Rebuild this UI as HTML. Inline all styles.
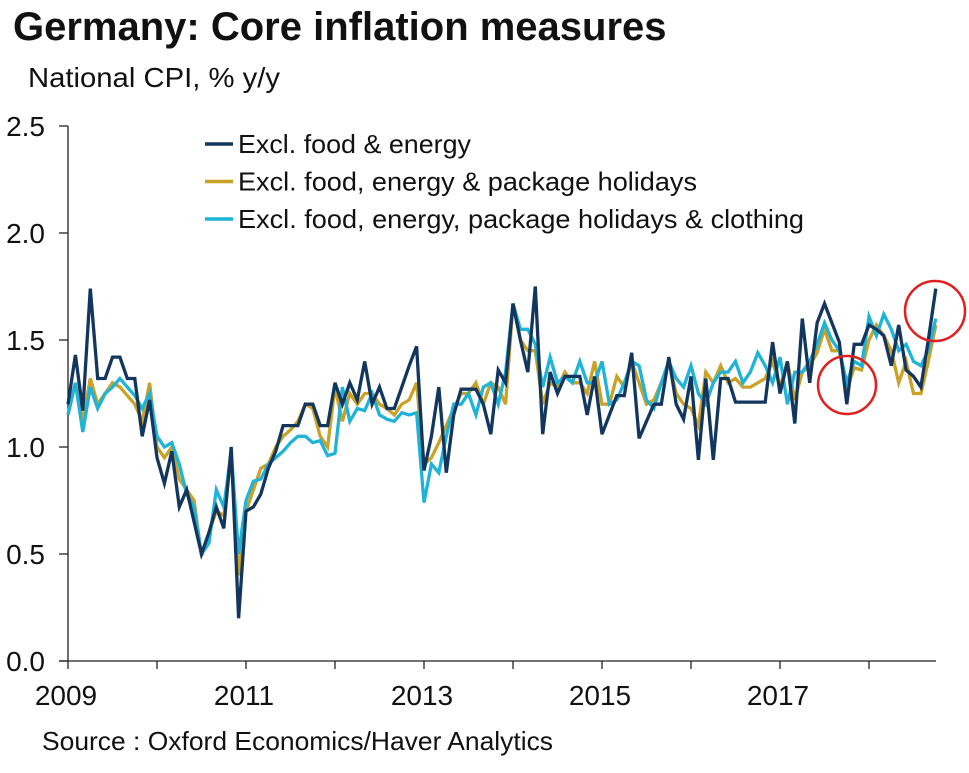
<!DOCTYPE html>
<html><head><meta charset="utf-8"><style>
body{margin:0;background:#fff;}
svg{display:block;font-family:"Liberation Sans",Arial,sans-serif;}
</style></head><body>
<svg id="chart" width="969" height="773" viewBox="0 0 969 773">
<text x="13" y="40" font-size="40" font-weight="bold" fill="#111">Germany: Core inflation measures</text>
<text x="28" y="87" font-size="28" fill="#111" textLength="252" lengthAdjust="spacingAndGlyphs">National CPI, % y/y</text>
<text x="42" y="750" font-size="26" fill="#111" textLength="511" lengthAdjust="spacingAndGlyphs">Source : Oxford Economics/Haver Analytics</text>
<g id="axes"></g>
<g id="series"></g>
<g id="legend"></g>
<circle cx="847" cy="385" r="29" fill="none" stroke="#e02020" stroke-width="2.5"/>
<circle cx="935" cy="311" r="30" fill="none" stroke="#e02020" stroke-width="2.5"/>
</svg>
<script>
const yTicks=[0.0,0.5,1.0,1.5,2.0,2.5];
const yTickLabels=["0.0","0.5","1.0","1.5","2.0","2.5"];
const xYears=[2009,2010,2011,2012,2013,2014,2015,2016,2017,2018];
const xLabelYears=[2009,2011,2013,2015,2017];
const seriesNames=["Excl. food & energy","Excl. food, energy & package holidays","Excl. food, energy, package holidays & clothing"];
const exFoodEnergy=[1.20,1.43,1.17,1.74,1.32,1.32,1.42,1.42,1.32,1.32,
1.05,1.22,0.95,0.83,0.98,0.72,0.80,0.65,0.50,0.60,
0.72,0.62,1.00,0.20,0.70,0.72,0.78,0.90,0.98,1.10,
1.10,1.10,1.20,1.20,1.10,1.10,1.30,1.20,1.30,1.22,
1.40,1.20,1.28,1.18,1.18,1.28,1.38,1.47,0.89,1.05,
1.28,0.88,1.15,1.27,1.27,1.27,1.20,1.06,1.36,1.30,
1.67,1.50,1.35,1.75,1.06,1.35,1.25,1.33,1.33,1.33,
1.15,1.33,1.06,1.15,1.24,1.24,1.44,1.04,1.12,1.20,
1.20,1.42,1.20,1.13,1.33,0.94,1.32,0.94,1.32,1.32,
1.21,1.21,1.21,1.21,1.21,1.49,1.25,1.40,1.11,1.60,
1.30,1.58,1.67,1.58,1.49,1.20,1.48,1.48,1.57,1.55,
1.52,1.38,1.57,1.36,1.33,1.28,1.50,1.74];
const exPackage=[1.15,1.30,1.12,1.32,1.20,1.25,1.30,1.28,1.24,1.20,
1.12,1.30,1.00,0.95,1.00,0.85,0.80,0.75,0.49,0.60,
0.70,0.68,0.95,0.40,0.70,0.80,0.90,0.92,1.00,1.05,
1.08,1.12,1.20,1.18,1.05,1.00,1.28,1.12,1.25,1.20,
1.25,1.25,1.20,1.18,1.15,1.20,1.22,1.30,0.92,0.95,
1.02,1.10,1.18,1.25,1.25,1.30,1.20,1.30,1.28,1.20,
1.67,1.50,1.45,1.45,1.20,1.30,1.28,1.35,1.30,1.30,
1.25,1.40,1.20,1.20,1.33,1.28,1.40,1.30,1.20,1.22,
1.30,1.40,1.25,1.20,1.18,1.10,1.35,1.30,1.38,1.30,
1.32,1.28,1.28,1.30,1.32,1.40,1.28,1.40,1.22,1.35,
1.38,1.44,1.55,1.45,1.45,1.27,1.37,1.36,1.50,1.57,
1.52,1.45,1.30,1.40,1.25,1.25,1.40,1.57];
const exClothing=[1.15,1.30,1.07,1.28,1.18,1.25,1.28,1.32,1.28,1.24,
1.18,1.25,1.05,1.00,1.02,0.92,0.78,0.72,0.50,0.55,
0.80,0.72,0.98,0.50,0.75,0.84,0.85,0.92,0.95,0.98,
1.02,1.05,1.05,1.02,1.03,0.96,0.97,1.28,1.12,1.18,
1.17,1.25,1.15,1.13,1.12,1.16,1.15,1.16,0.74,0.92,
0.88,1.05,1.20,1.20,1.25,1.15,1.28,1.30,1.20,1.35,
1.67,1.55,1.55,1.48,1.28,1.42,1.30,1.33,1.30,1.40,
1.30,1.30,1.40,1.20,1.22,1.30,1.40,1.38,1.22,1.18,
1.30,1.40,1.32,1.28,1.38,1.25,1.20,1.30,1.35,1.35,
1.40,1.30,1.35,1.44,1.38,1.30,1.42,1.20,1.35,1.35,
1.40,1.48,1.58,1.50,1.45,1.30,1.40,1.38,1.61,1.52,
1.62,1.55,1.45,1.48,1.40,1.38,1.45,1.60];

const NS="http://www.w3.org/2000/svg";
const X0=68,PXY=89,Y0=661,PXV=214;
function xYear(y){return X0+(y-2009)*PXY;}
function xMonth(i){return X0+i*PXY/12;}
function yVal(v){return Y0-v*PXV;}
function mk(tag,attrs,parent){const e=document.createElementNS(NS,tag);for(const k in attrs)e.setAttribute(k,attrs[k]);parent.appendChild(e);return e;}
const axes=document.getElementById('axes');
let e=mk('line',{x1:X0,y1:yVal(2.5),x2:X0,y2:Y0,stroke:'#222','stroke-width':1.3},axes);


e=mk('line',{x1:59,y1:Y0,x2:936,y2:Y0,stroke:'#222','stroke-width':1.3},axes);


yTicks.forEach((v,k)=>{
  const t=mk('line',{x1:59,y1:yVal(v),x2:X0,y2:yVal(v),stroke:'#222','stroke-width':1.3},axes);
  
  
  const l=mk('text',{x:45,y:yVal(v)+10,'font-size':28,'text-anchor':'end',fill:'#111'},axes);
  l.textContent=yTickLabels[k];
  
  
});
xYears.forEach(y=>{
  const t=mk('line',{x1:xYear(y),y1:Y0,x2:xYear(y),y2:Y0+8,stroke:'#222','stroke-width':1.3},axes);
  
  
});
xLabelYears.forEach(y=>{
  const l=mk('text',{x:xYear(y)-2,y:705,'font-size':28,'text-anchor':'middle',fill:'#111'},axes);
  l.textContent=String(y);
  
  
});
const colors=["#13365f","#c9a227","#1fb3d8"];
const data=[exFoodEnergy,exPackage,exClothing];
const sg=document.getElementById('series');
[1,2,0].forEach(s=>{
  const pts=data[s].map((v,i)=>xMonth(i).toFixed(1)+','+yVal(v).toFixed(1)).join(' ');
  const p=mk('polyline',{points:pts,fill:'none',stroke:colors[s],'stroke-width':3.3,'stroke-linejoin':'miter'},sg);
  
  
});
const lg=document.getElementById('legend');
const legendW=[233,459,566];
seriesNames.forEach((n,k)=>{
  const y=144+k*37.5;
  const ln=mk('line',{x1:205,y1:y,x2:233,y2:y,stroke:colors[k],'stroke-width':3.5},lg);
  
  
  const t=mk('text',{x:238,y:y+9,'font-size':26,fill:'#111',textLength:legendW[k],lengthAdjust:'spacingAndGlyphs'},lg);
  t.textContent=n;
  
  
});
</script>
</body></html>
